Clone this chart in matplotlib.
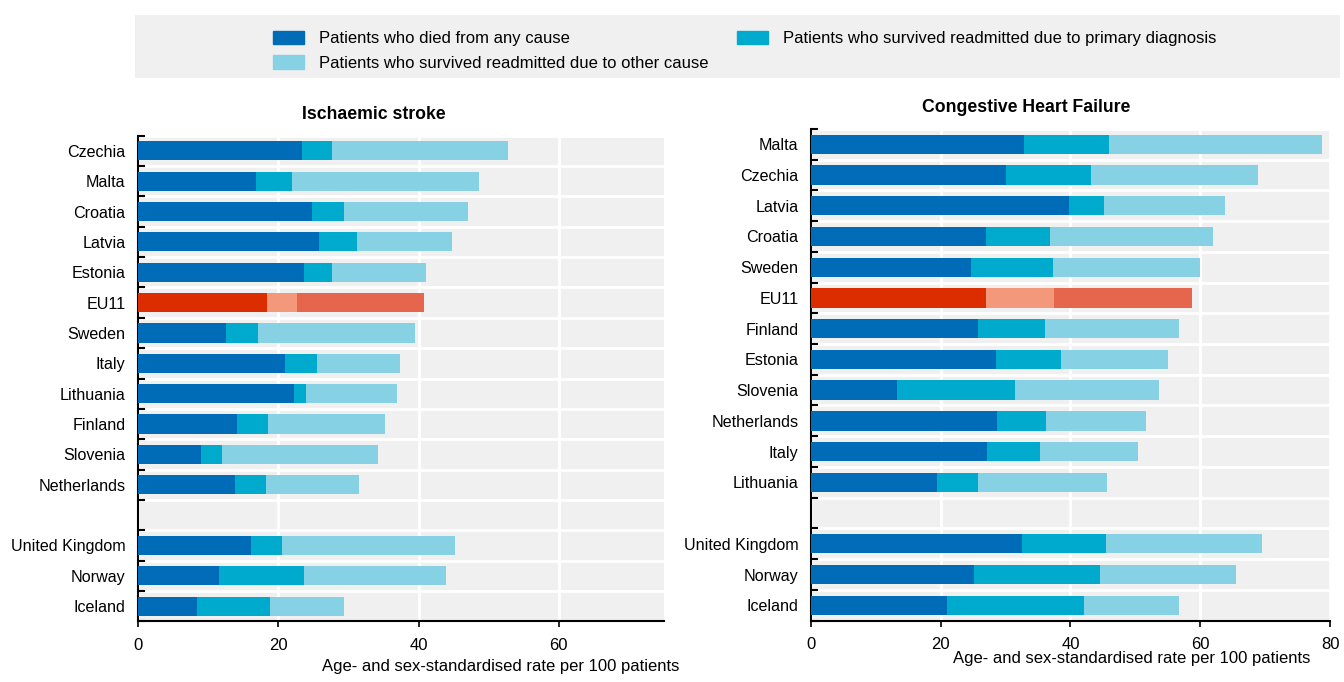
import numpy as np
import matplotlib
matplotlib.use("Agg")
import matplotlib.pyplot as plt
from matplotlib.patches import Patch, Rectangle

plt.rcParams['font.family'] = ['Liberation Sans', 'DejaVu Sans']

# Ischaemic stroke (top to bottom, None = gap row)
stroke_countries = ["Czechia", "Malta", "Croatia", "Latvia", "Estonia", "EU11", "Sweden",
                    "Italy", "Lithuania", "Finland", "Slovenia", "Netherlands", None,
                    "United Kingdom", "Norway", "Iceland"]
stroke_died = [23.4, 16.8, 24.8, 25.8, 23.6, 18.4, 12.5, 20.9, 22.3, 14.1, 9.0, 13.8, 0, 16.1, 11.5, 8.4]
stroke_primary = [4.2, 5.1, 4.5, 5.4, 4.0, 4.2, 4.6, 4.6, 1.7, 4.4, 3.0, 4.4, 0, 4.4, 12.1, 10.4]
stroke_other = [25.2, 26.7, 17.7, 13.6, 13.4, 18.2, 22.4, 11.9, 12.9, 16.7, 22.2, 13.3, 0, 24.7, 20.3, 10.6]

# Congestive heart failure
chf_countries = ["Malta", "Czechia", "Latvia", "Croatia", "Sweden", "EU11", "Finland",
                 "Estonia", "Slovenia", "Netherlands", "Italy", "Lithuania", None,
                 "United Kingdom", "Norway", "Iceland"]
chf_died = [32.8, 30.1, 39.7, 26.9, 24.6, 26.9, 25.8, 28.5, 13.2, 28.6, 27.2, 19.4, 0, 32.6, 25.1, 21.0]
chf_primary = [13.2, 13.0, 5.5, 9.9, 12.7, 10.5, 10.3, 10.0, 18.2, 7.7, 8.1, 6.3, 0, 12.8, 19.5, 21.1]
chf_other = [32.7, 25.8, 18.6, 25.1, 22.7, 21.3, 20.7, 16.5, 22.2, 15.3, 15.1, 20.0, 0, 24.1, 20.9, 14.6]

legend_labels = ["Patients who died from any cause",
                 "Patients who survived readmitted due to primary diagnosis",
                 "Patients who survived readmitted due to other cause"]

blue_cols = ["#006bb6", "#00aacc", "#86d2e4"]
red_cols = ["#dc2d00", "#f4987b", "#e5654d"]
bg = "#f0f0f0"


def draw_panel(ax, countries, died, primary, other, xmax, title, title_x):
    n = len(countries)
    y = np.arange(n)
    ax.set_facecolor(bg)
    for i in range(n):
        if countries[i] is None:
            continue
        cols = red_cols if countries[i] == "EU11" else blue_cols
        ax.barh(y[i], died[i], height=0.63, color=cols[0], zorder=3)
        ax.barh(y[i], primary[i], left=died[i], height=0.63, color=cols[1], zorder=3)
        ax.barh(y[i], other[i], left=died[i] + primary[i], height=0.63, color=cols[2], zorder=3)
    ax.set_ylim(n - 0.5, -0.5)
    ax.set_xlim(0, xmax)
    ax.set_yticks(y)
    ax.set_yticklabels([c if c else "" for c in countries], fontsize=11.6)
    ax.set_yticks(np.arange(n + 1) - 0.5, minor=True)
    ax.tick_params(axis='y', which='major', length=0, pad=9)
    ax.tick_params(axis='y', which='minor', direction='in', length=5, width=1.5)
    ax.set_xticks(np.arange(0, xmax + 1, 20))
    ax.tick_params(axis='x', labelsize=12, direction='out', length=4, width=1.2, pad=8)
    ax.grid(True, which='minor', axis='y', color='white', lw=2, zorder=1)
    ax.grid(True, which='major', axis='x', color='white', lw=2, zorder=1)
    for s in ['top', 'right']:
        ax.spines[s].set_visible(False)
    for s in ['left', 'bottom']:
        ax.spines[s].set_linewidth(1.5)
    ax.set_title(title, fontsize=12.7, fontweight='bold', pad=12, x=title_x)


fig = plt.figure(figsize=(13.44, 6.82), dpi=100)
ax1 = fig.add_axes([0.1027, 0.089, 0.3914, 0.712])
ax2 = fig.add_axes([0.6034, 0.090, 0.3862, 0.721])

draw_panel(ax1, stroke_countries, stroke_died, stroke_primary, stroke_other, 75,
           "Ischaemic stroke", 0.448)
draw_panel(ax2, chf_countries, chf_died, chf_primary, chf_other, 80,
           "Congestive Heart Failure", 0.414)

fig.text(0.3725, 0.016, "Age- and sex-standardised rate per 100 patients", ha='center', fontsize=12)
fig.text(0.842, 0.028, "Age- and sex-standardised rate per 100 patients", ha='center', fontsize=12)

# legend box
fig.patches.append(Rectangle((0.1004, 0.886), 0.8966, 0.092, transform=fig.transFigure,
                             facecolor=bg, edgecolor='none', zorder=0))
handles = [Patch(color=blue_cols[0]), Patch(color=blue_cols[2]), Patch(color=blue_cols[1])]
labels = [legend_labels[0], legend_labels[2], legend_labels[1]]
fig.legend(handles, labels, ncol=2, loc='upper left', bbox_to_anchor=(0.198, 0.965),
           frameon=False, fontsize=12, handlelength=1.86, handleheight=0.88,
           handletextpad=0.9, columnspacing=1.74, labelspacing=0.53, borderaxespad=0)

fig.savefig("out.png", dpi=100)
